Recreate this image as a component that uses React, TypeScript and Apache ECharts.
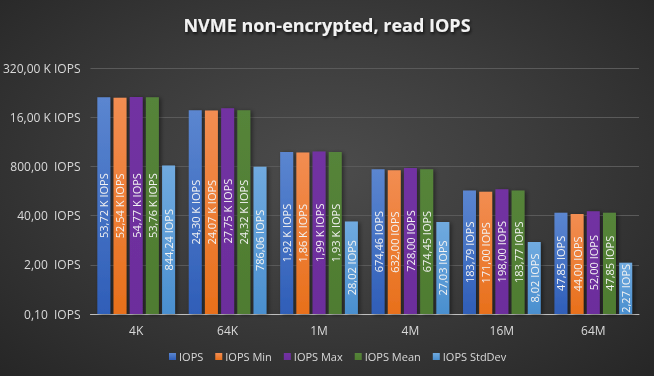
import React, { useEffect, useRef } from "react";
import * as echarts from "echarts";

const categories = ["4K", "64K", "1M", "4M", "16M", "64M"];
const seriesNames = ["IOPS", "IOPS Min", "IOPS Max", "IOPS Mean", "IOPS StdDev"];
const iops = [53720, 24300, 1920, 674.46, 183.79, 47.85];
const iopsMin = [52540, 24070, 1860, 632.0, 171.0, 44.0];
const iopsMax = [54770, 27750, 1990, 728.0, 198.0, 52.0];
const iopsMean = [53760, 24320, 1930, 674.45, 183.77, 47.85];
const iopsStdDev = [844.24, 786.06, 28.02, 27.03, 8.02, 2.27];
const axisMin = 0.1;
const logBase = 20;
const axisSteps = 5;

const seriesValues = [iops, iopsMin, iopsMax, iopsMean, iopsStdDev];
const colorStops = [
  ["#5b86d0", "#2f5eb8"],
  ["#f28d52", "#e8701b"],
  ["#7232a2", "#6c2e9c"],
  ["#55843a", "#4f7c30"],
  ["#70aadf", "#4a8fcf"],
];

const toLog = (v: number) => Math.log(v / axisMin) / Math.log(logBase);
const fromLog = (y: number) => axisMin * Math.pow(logBase, y);
const fmt = (v: number, sep: string) => {
  if (v >= 1000) return (v / 1000).toFixed(2).replace(".", ",") + " K IOPS";
  return v.toFixed(2).replace(".", ",") + sep + "IOPS";
};

export default function App() {
  const ref = useRef<HTMLDivElement>(null);
  useEffect(() => {
    if (!ref.current) return;
    const chart = echarts.init(ref.current, null, { renderer: "svg" });
    const font = "'Open Sans', 'Noto Sans', sans-serif";
    chart.setOption({
      animation: false,
      backgroundColor: "transparent",
      title: {
        text: "NVME non-encrypted, read IOPS",
        left: "center",
        top: 11,
        textStyle: {
          color: "#f2f2f2",
          fontSize: 18,
          fontWeight: "bold",
          fontFamily: font,
          textShadowColor: "rgba(0,0,0,0.7)",
          textShadowBlur: 3,
          textShadowOffsetX: 1,
          textShadowOffsetY: 2,
        },
      },
      legend: {
        bottom: 9,
        left: 164,
        itemWidth: 7,
        itemHeight: 7,
        itemGap: 12,
        icon: "rect",
        textStyle: { color: "#d9d9d9", fontSize: 11, fontFamily: font, padding: [0, 0, 0, -2] },
        data: seriesNames,
      },
      grid: { left: 87, right: 15, top: 68, bottom: 62 },
      xAxis: {
        type: "category",
        data: categories,
        axisLine: { lineStyle: { color: "#bfbfbf", width: 1 } },
        axisTick: { show: false },
        axisLabel: { color: "#d9d9d9", fontSize: 12, fontFamily: font, margin: 10 },
      },
      yAxis: {
        type: "value",
        min: 0,
        max: axisSteps,
        interval: 1,
        axisLine: { show: false },
        axisTick: { show: false },
        splitLine: { lineStyle: { color: "#5a5a5a", width: 1 } },
        axisLabel: {
          color: "#d9d9d9",
          fontSize: 12,
          fontFamily: font,
          margin: 10,
          formatter: (y: number) => fmt(fromLog(y), "  "),
        },
      },
      series: seriesValues.map((vals, si) => ({
        name: seriesNames[si],
        type: "bar",
        barGap: "25%",
        barCategoryGap: "15%",
        data: vals.map((v) => toLog(v)),
        itemStyle: {
          color: new echarts.graphic.LinearGradient(0, 0, 0, 1, [
            { offset: 0, color: colorStops[si][0] },
            { offset: 1, color: colorStops[si][1] },
          ]),
          shadowColor: "rgba(0,0,0,0.45)",
          shadowBlur: 4,
          shadowOffsetX: 2,
          shadowOffsetY: 1,
        },
        label: {
          show: true,
          position: "inside",
          rotate: 90,
          color: "#f2f2f2",
          fontSize: 11,
          fontFamily: font,
          formatter: (p: any) => fmt(seriesValues[si][p.dataIndex], " "),
        },
      })),
    });
    return () => chart.dispose();
  }, []);
  return (
    <div
      style={{
        position: "fixed",
        left: 0,
        top: 0,
        width: 654,
        height: 376,
        background: "radial-gradient(ellipse at 50% 45%, #4c4c4c 0%, #3c3c3c 45%, #262626 100%)",
      }}
    >
      <div ref={ref} style={{ width: 654, height: 376 }} />
    </div>
  );
}
